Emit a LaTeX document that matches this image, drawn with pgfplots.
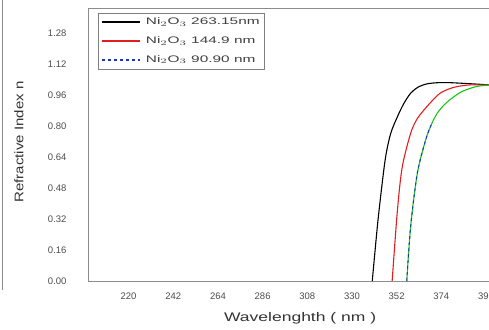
\documentclass[border=0pt]{standalone}
\usepackage{pgfplots}
\pgfplotsset{compat=1.18}
\usepackage{fontspec}
\setmainfont{Liberation Sans}
\definecolor{tickgray}{gray}{0.3}
\definecolor{cred}{RGB}{225,30,30}
\definecolor{cgreen}{RGB}{20,200,20}
\definecolor{cblue}{RGB}{30,50,200}
\begin{document}
\begin{tikzpicture}[x=1pt,y=1pt]
\begin{axis}[
  at={(88pt,48pt)}, anchor=origin,
  scale only axis, width=401pt, height=273pt,
  xmin=200, xmax=397.5, ymin=0, ymax=1.409,
  xtick={220,242,264,286,308,330,352,374,396},
  ytick={0,0.16,0.32,0.48,0.64,0.80,0.96,1.12,1.28},
  yticklabel style={/pgf/number format/fixed,/pgf/number format/fixed zerofill,/pgf/number format/precision=2},
  /pgf/number format/assume math mode=true,
  major tick length=0pt,
  ticklabel style={font=\fontsize{9.5}{10}\selectfont, text=tickgray},
  xticklabel style={yshift=-8pt},
  yticklabel style={xshift=-18pt},
  axis line style={black!45, line width=0.9pt},
  xlabel={\scalebox{1.4}[1]{Wavelenghth ( nm )}}, ylabel={\scalebox{1.2}[1]{Refractive Index n}},
  label style={font=\fontsize{12.5}{13}\selectfont, text=black!80},
  xlabel style={at={(axis description cs:0.529,0)}, anchor=center, yshift=-37pt},
  ylabel style={at={(axis description cs:-0.172,0.509)}, anchor=center, rotate=0},
  legend style={at={(rel axis cs:0.025,0.982)}, anchor=north west, draw=black!50, font=\fontsize{9.5}{10}\selectfont, row sep=6.3pt, inner xsep=3pt, inner ysep=3pt},
  legend cell align=left,
  legend image code/.code={\draw[#1, line width=1.7pt] (0pt,0pt) -- (38pt,0pt);},
]
\addplot[black, line width=1.1pt, smooth] coordinates {
(340.0,0) (342.5,0.28) (344.5,0.47) (346.6,0.642) (349.1,0.762) (352.4,0.848) (355.5,0.915) (358.9,0.969) (362.5,1.000) (366.8,1.017) (371.5,1.023) (376.9,1.024) (385.2,1.020) (397.8,1.012)};
\addlegendentry{\hspace{3pt}\textcolor{black!75}{\scalebox{1.62}[1]{Ni$_2$O$_3$ 263.15nm}}}
\addplot[cred, line width=1.1pt, smooth] coordinates {
(349.8,0) (352.4,0.366) (354.8,0.59) (358.9,0.762) (362.0,0.835) (365.5,0.883) (369.5,0.930) (373.4,0.969) (377.5,0.990) (381.6,1.003) (388.2,1.012) (397.8,1.012)};
\addlegendentry{\hspace{3pt}\textcolor{black!75}{\scalebox{1.62}[1]{Ni$_2$O$_3$ 144.9 nm}}}
\addplot[cgreen, line width=1.1pt, smooth, forget plot] coordinates {
(357.0,0) (358.9,0.28) (362.2,0.556) (366.3,0.728) (369.0,0.805) (372.0,0.866) (376.0,0.915) (380.2,0.951) (384.0,0.977) (388.5,0.995) (392.0,1.005) (397.8,1.012)};
\addplot[cblue, line width=1.0pt, dashed, smooth] coordinates {
(357.0,0) (358.9,0.28) (362.2,0.556) (366.3,0.728) (369.0,0.805)};
\addlegendentry{\hspace{3pt}\textcolor{black!75}{\scalebox{1.62}[1]{Ni$_2$O$_3$ 90.90 nm}}}
\end{axis}
\draw[black!45, line width=0.8pt] (2,39) -- (2,329);
\pgfresetboundingbox
\useasboundingbox (0,0) rectangle (489,329);
\end{tikzpicture}
\end{document}
